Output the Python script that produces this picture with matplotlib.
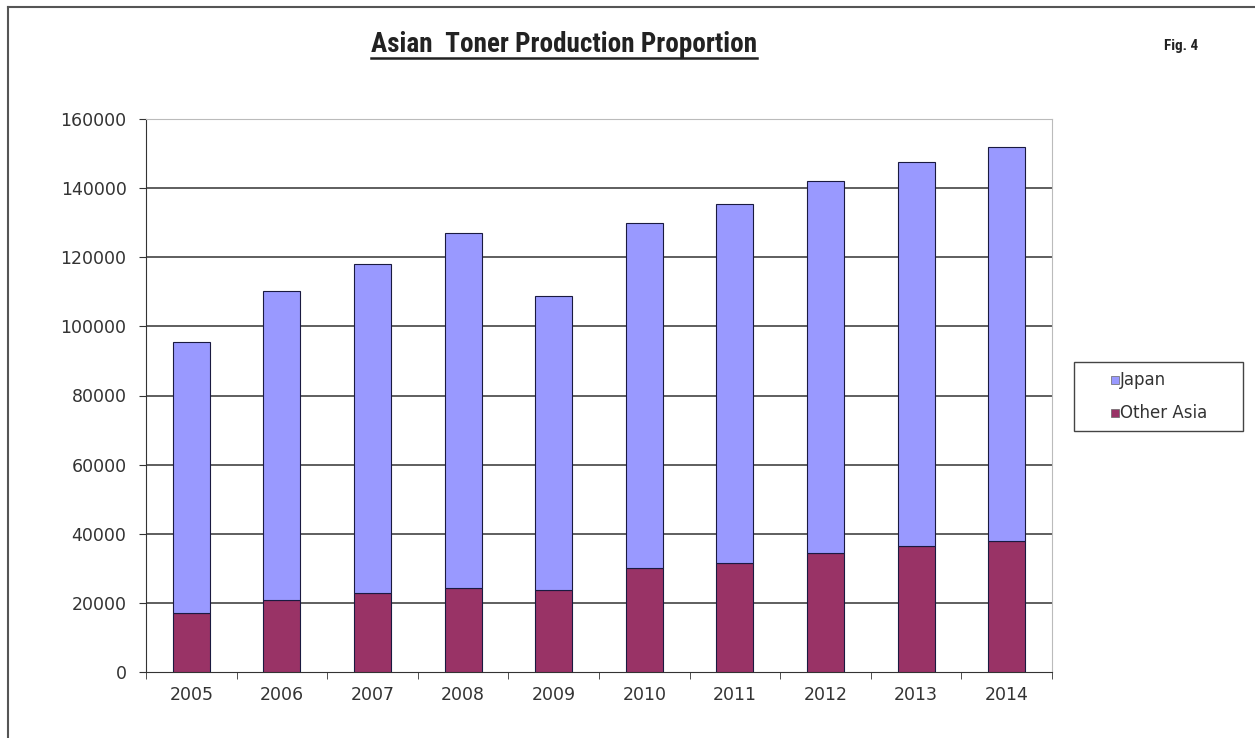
import matplotlib
matplotlib.use("Agg")
import matplotlib.pyplot as plt
from matplotlib.lines import Line2D
from matplotlib.patches import Rectangle
from matplotlib import font_manager
import numpy as np

years = ["2005", "2006", "2007", "2008", "2009", "2010", "2011", "2012", "2013", "2014"]
other_asia = [17200, 20800, 22800, 24200, 23700, 30000, 31400, 34300, 36500, 37800]
japan = [78200, 89400, 95300, 102900, 85100, 99900, 104100, 107700, 111100, 114000]
yticks = [0, 20000, 40000, 60000, 80000, 100000, 120000, 140000, 160000]
series_names = ["Japan", "Other Asia"]
series_colors = ["#9999FF", "#993366"]

plt.rcParams['font.family'] = ['DejaVu Sans']

names = {f.name for f in font_manager.fontManager.ttflist}
cond = [n for n in ['Roboto Condensed', 'DejaVu Sans Condensed', 'Liberation Sans Narrow', 'Open Sans Condensed'] if n in names]
title_family = cond + ['Liberation Sans', 'DejaVu Sans']

fig = plt.figure(figsize=(12.55, 7.38), dpi=100)
ax = fig.add_axes([146/1255, 1-672/738, 906/1255, 553/738])

x = np.arange(len(years))
w = 0.41
ax.bar(x, other_asia, w, color=series_colors[1], edgecolor='#1a1a40', linewidth=0.8, zorder=3)
ax.bar(x, japan, w, bottom=other_asia, color=series_colors[0], edgecolor='#1a1a40', linewidth=0.8, zorder=3)

ax.set_xlim(-0.5, len(years) - 0.5)
ax.set_ylim(0, 160000)
ax.set_yticks(yticks)
ax.set_yticklabels([str(v) for v in yticks], fontsize=12.5, color='#333333')
ax.set_xticks(x)
ax.set_xticklabels(years, fontsize=12.5, color='#333333')
ax.tick_params(axis='x', length=0, pad=10)
ax.set_xticks(np.arange(-0.5, len(years)), minor=True)
ax.tick_params(axis='x', which='minor', length=5, direction='out', color='#333333')
ax.tick_params(axis='y', length=5, direction='out', color='#333333', pad=9)

for v in yticks[1:-1]:
    ax.axhline(v, color='#333333', linewidth=1.1, zorder=1)
ax.axhline(160000, color='#bbbbbb', linewidth=1.2, zorder=1)

ax.spines['left'].set_color('#333333')
ax.spines['bottom'].set_color('#333333')
ax.spines['top'].set_color('#bbbbbb')
ax.spines['right'].set_color('#bbbbbb')

# legend drawn manually in figure pixels
W, H = 1255, 738
fig.add_artist(Rectangle((1074/W, 1-431/H), 169/W, 69/H, transform=fig.transFigure,
                         facecolor='white', edgecolor='#444444', linewidth=1.0))
legend_y = [380, 413]
for name, col, yy in zip(series_names, series_colors, legend_y):
    fig.add_artist(Rectangle((1111/W, 1-(yy+4)/H), 8/W, 8/H, transform=fig.transFigure,
                             facecolor=col, edgecolor='#666666', linewidth=0.5))
    fig.text(1120/W, 1-yy/H, name, ha='left', va='center', fontsize=12, color='#333333')

title = fig.text(564/W, 1-45/H, "Asian  Toner Production Proportion", ha='center', va='center',
                 fontsize=19.5, fontweight='bold', family=title_family, color='#222222')
fig.text(1181/W, 1-46/H, "Fig. 4", ha='center', va='center', fontsize=11, fontweight='bold',
         family=title_family, color='#222222')

fig.canvas.draw()
bb = title.get_window_extent().transformed(fig.transFigure.inverted())
fig.add_artist(Line2D([bb.x0, bb.x1], [bb.y0 + 0.001, bb.y0 + 0.001], color='#222222', linewidth=1.8,
                      transform=fig.transFigure))

fig.add_artist(Line2D([8/W, 8/W], [0, 1-7/H], color='#555555', linewidth=1.5, transform=fig.transFigure))
fig.add_artist(Line2D([8/W, 1], [1-7/H, 1-7/H], color='#555555', linewidth=1.5, transform=fig.transFigure))

fig.savefig("out.png", dpi=100)
